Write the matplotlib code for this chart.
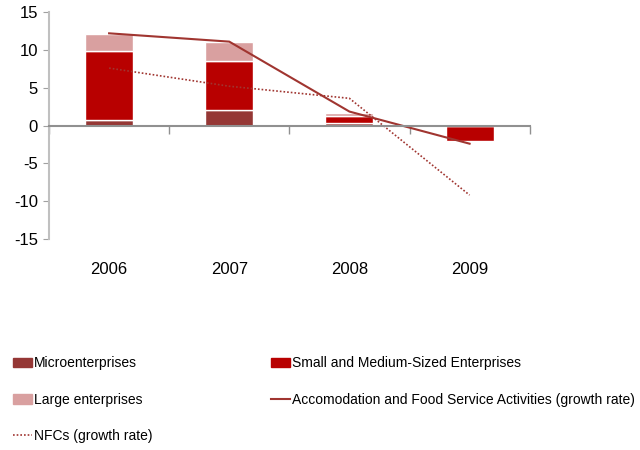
import numpy as np
import matplotlib.pyplot as plt
from matplotlib.patches import Patch
from matplotlib.lines import Line2D

years = ["2006", "2007", "2008", "2009"]
micro = [0.8, 2.0, 0.3, 0.0]
sme = [9.1, 6.6, 0.95, -2.1]
large = [2.2, 2.4, 0.45, 0.0]
accom_growth = [12.2, 11.1, 1.85, -2.4]
nfc_growth = [7.6, 5.2, 3.6, -9.2]

plt.rcParams['font.family'] = ['Liberation Sans', 'DejaVu Sans']
plt.rcParams['axes.unicode_minus'] = False

c_micro = "#953735"
c_sme = "#B80000"
c_large = "#D9A0A0"
c_line = "#A03530"

fig = plt.figure(figsize=(6.4, 4.5), dpi=100)
ax = fig.add_axes([0.0766, 0.469, 0.751, 0.504])

x = np.arange(len(years))
micro = np.array(micro)
sme = np.array(sme)
large = np.array(large)

ax.bar(x, micro, width=0.4, color=c_micro, edgecolor="white", linewidth=1)
# negative SME values hang from zero, positive ones stack on the micro segment
sme_bottom = np.where(sme >= 0, micro, 0)
ax.bar(x, sme, width=0.4, bottom=sme_bottom, color=c_sme, edgecolor="white", linewidth=1)
ax.bar(x, large, width=0.4, bottom=sme_bottom + np.clip(sme, 0, None), color=c_large,
       edgecolor="white", linewidth=1)

ax.plot(x, accom_growth, color=c_line, lw=1.5)
ax.plot(x, nfc_growth, color=c_line, lw=1.2, ls=(0, (1, 1.2)))

ax.set_xlim(-0.5, len(years) - 0.5)
ax.set_ylim(-15, 15)
ax.set_yticks(np.arange(-15, 16, 5))
ax.tick_params(axis="y", labelsize=12, color="#A0A0A0", length=4, pad=4)

ax.spines["top"].set_visible(False)
ax.spines["right"].set_visible(False)
ax.spines["left"].set_color("#C0C0C0")
ax.spines["left"].set_linewidth(1.5)
ax.spines["bottom"].set_position(("data", 0))
ax.spines["bottom"].set_color("#909090")
ax.spines["bottom"].set_linewidth(1.5)

ax.set_xticks(np.arange(len(years) + 1) - 0.5)
ax.set_xticklabels([])
ax.tick_params(axis="x", direction="out", length=6, color="#909090", width=1)

for i, yr in enumerate(years):
    ax.text(i, -0.1, yr, transform=ax.get_xaxis_transform(), ha="center", va="top",
            fontsize=12)

handles = [
    Patch(color=c_micro, label="Microenterprises"),
    Patch(color=c_large, label="Large enterprises"),
    Line2D([], [], color=c_line, lw=1.2, ls=(0, (1, 1.2)), label="NFCs (growth rate)"),
    Patch(color=c_sme, label="Small and Medium-Sized Enterprises"),
    Line2D([], [], color=c_line, lw=1.5, label="Accomodation and Food Service Activities (growth rate)"),
]
fig.legend(handles=handles, ncol=2, loc="upper left", bbox_to_anchor=(0.0, 0.236),
           frameon=False, fontsize=10, handlelength=1.4, handletextpad=0.15,
           labelspacing=1.6, columnspacing=8.5)

fig.savefig("out.png", dpi=100)
